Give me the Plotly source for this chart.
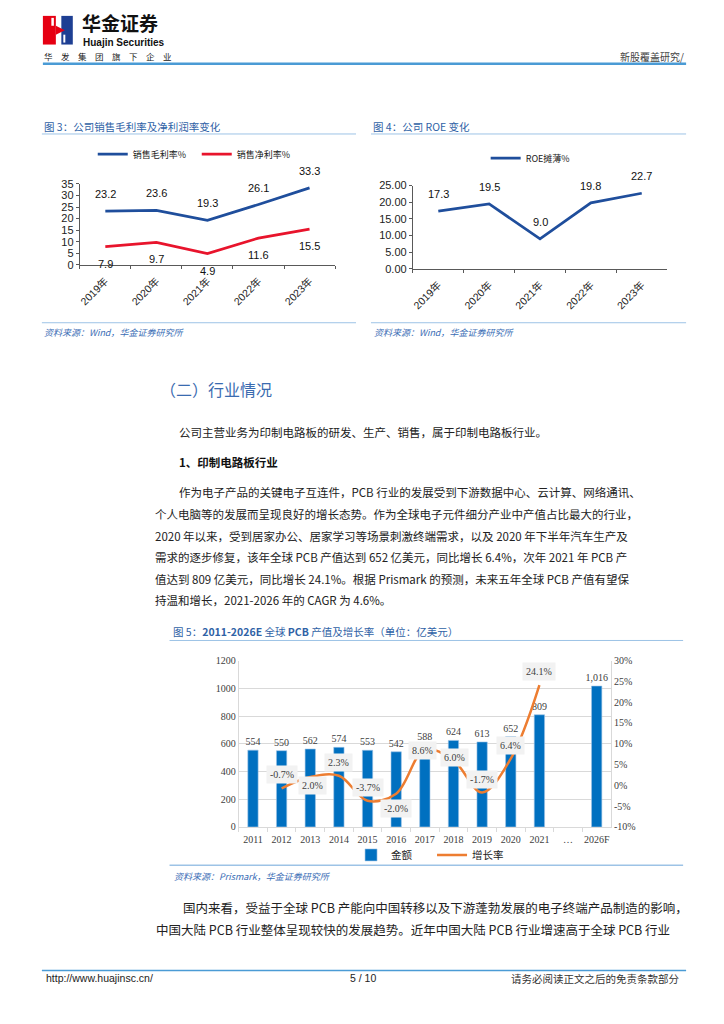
import plotly.graph_objects as go

W, H = 724, 1024

# ---------------- data ----------------
years = ["2019年", "2020年", "2021年", "2022年", "2023年"]
gross_margin = [23.2, 23.6, 19.3, 26.1, 33.3]
net_margin = [7.9, 9.7, 4.9, 11.6, 15.5]
roe_diluted = [17.3, 19.5, 9.0, 19.8, 22.7]

pcb_cats = ["2011", "2012", "2013", "2014", "2015", "2016", "2017", "2018",
            "2019", "2020", "2021", "…", "2026F"]
pcb_value = [554, 550, 562, 574, 553, 542, 588, 624, 613, 652, 809, None, 1016]
growth_cats = ["2012", "2013", "2014", "2015", "2016", "2017", "2018", "2019", "2020", "2021"]
growth_rate = [-0.7, 2.0, 2.3, -3.7, -2.0, 8.6, 6.0, -1.7, 6.4, 24.1]

y5_left_ticks = [0, 200, 400, 600, 800, 1000, 1200]
y5_right_ticks = [-10, -5, 0, 5, 10, 15, 20, 25, 30]
y5_right_labels = ["-10%", "-5%", "0%", "5%", "10%", "15%", "20%", "25%", "30%"]

# label offsets (pixels) for growth labels (style only)
growth_label_shift = [(0, 14), (2, -8), (0, 13), (0, 13), (0, -15),
                      (-2, -1), (1, 3), (0, 13), (0, 13), (0, 14)]

SANS = "Liberation Sans, Arial, Noto Sans CJK SC"
CJK = "Noto Sans CJK SC, Liberation Sans"
SERIF = "Liberation Serif, Noto Sans CJK SC"


def px(x):
    return x / W


def py(y):
    return 1 - y / H


fig = go.Figure()

# ---------------- chart 3 ----------------
fig.add_trace(go.Scatter(x=years, y=gross_margin, mode="lines", name="销售毛利率%",
                         line=dict(color="#1F4E9C", width=2.75), xaxis="x", yaxis="y",
                         legend="legend"))
fig.add_trace(go.Scatter(x=years, y=net_margin, mode="lines", name="销售净利率%",
                         line=dict(color="#E8142C", width=2.75), xaxis="x", yaxis="y",
                         legend="legend"))
# ---------------- chart 4 ----------------
fig.add_trace(go.Scatter(x=years, y=roe_diluted, mode="lines", name="ROE摊薄%",
                         line=dict(color="#1F4E9C", width=2.75), xaxis="x2", yaxis="y2",
                         legend="legend2"))
# ---------------- chart 5 ----------------
fig.add_trace(go.Bar(x=pcb_cats, y=pcb_value, name="金额", xaxis="x3", yaxis="y3",
                     marker=dict(color="#0070C0", line=dict(color="#9DC3E6", width=0.6)),
                     width=0.36,
                     text=[("" if v is None else f"{v:,}") for v in pcb_value],
                     textposition="outside", cliponaxis=False, constraintext="none",
                     textfont=dict(family=SERIF, size=10, color="#404040"),
                     legend="legend3"))
fig.add_trace(go.Scatter(x=growth_cats, y=growth_rate, mode="lines", name="增长率",
                         line=dict(color="#ED7D31", width=2.5, shape="spline", smoothing=1.0),
                         xaxis="x3", yaxis="y4", legend="legend3", cliponaxis=False))

annotations = []
# value labels chart 3
for c, v in zip(years, gross_margin):
    annotations.append(dict(x=years.index(c), y=v, xref="x", yref="y", text=f"{v:.1f}",
                            showarrow=False, yshift=17,
                            font=dict(family=SANS, size=11, color="#111")))
for c, v in zip(years, net_margin):
    annotations.append(dict(x=years.index(c), y=v, xref="x", yref="y", text=f"{v:.1f}",
                            showarrow=False, yshift=-17,
                            font=dict(family=SANS, size=11, color="#111")))
# value labels chart 4
for c, v in zip(years, roe_diluted):
    annotations.append(dict(x=years.index(c), y=v, xref="x2", yref="y2", text=f"{v:.1f}",
                            showarrow=False, yshift=17,
                            font=dict(family=SANS, size=11, color="#111")))
# growth labels chart 5
for c, v, (dx, dy) in zip(growth_cats, growth_rate, growth_label_shift):
    annotations.append(dict(x=pcb_cats.index(c), y=v, xref="x3", yref="y4", text=f"{v:.1f}%",
                            showarrow=False, xshift=dx, yshift=dy, bgcolor="#F2F2F2",
                            borderpad=3, font=dict(family=SERIF, size=10, color="#404040")))


def txt(x, y, s, size, color="#222", anchor="left", family=CJK):
    annotations.append(dict(x=px(x), y=py(y), xref="paper", yref="paper", text=s,
                            showarrow=False, xanchor=anchor, yanchor="middle",
                            font=dict(family=family, size=size, color=color)))


# header
txt(78, 17, "<b>华金证券</b>", 19, "#111")
txt(79, 36.5, "<b>Huajin Securities</b>", 10, "#111", family=SANS)
txt(40, 51, "华\u3000发\u3000集\u3000团\u3000旗\u3000下\u3000企\u3000业", 8.5, "#222")
txt(686, 51, "新股覆盖研究/", 10, "#444", anchor="right")

# captions
CAP = "#2F62A6"
txt(40, 122, "图 3：公司销售毛利率及净利润率变化", 10.5, CAP)
txt(370, 122, "图 4：公司 ROE 变化", 10.5, CAP)
SRC = "#3A6DB5"
txt(40, 330, "<i>资料来源：Wind，华金证券研究所</i>", 9, SRC)
txt(371, 330, "<i>资料来源：Wind，华金证券研究所</i>", 9, SRC)

# section
txt(156, 388, "（二）行业情况", 16, "#3A6BB0")
txt(175, 431, "公司主营业务为印制电路板的研发、生产、销售，属于印制电路板行业。", 11.5, "#222")
txt(175, 461, "<b>1、印制电路板行业</b>", 11.5, "#111")
para = [
    (175, 492, "作为电子产品的关键电子互连件，PCB 行业的发展受到下游数据中心、云计算、网络通讯、"),
    (151, 514, "个人电脑等的发展而呈现良好的增长态势。作为全球电子元件细分产业中产值占比最大的行业，"),
    (151, 536, "2020 年以来，受到居家办公、居家学习等场景刺激终端需求，以及 2020 年下半年汽车生产及"),
    (151, 558, "需求的逐步修复，该年全球 PCB 产值达到 652 亿美元，同比增长 6.4%，次年 2021 年 PCB 产"),
    (151, 580, "值达到 809 亿美元，同比增长 24.1%。根据 Prismark 的预测，未来五年全球 PCB 产值有望保"),
    (151, 601, "持温和增长，2021-2026 年的 CAGR 为 4.6%。"),
]
for x, y, s in para:
    txt(x, y, s, 11.5, "#222")

txt(169, 633, "图 5：<b>2011-2026E</b> 全球 <b>PCB</b> 产值及增长率（单位：亿美元）", 10.5, CAP)
txt(170, 881, "<i>资料来源：Prismark，华金证券研究所</i>", 9, SRC)

txt(179, 912, "国内来看，受益于全球 PCB 产能向中国转移以及下游蓬勃发展的电子终端产品制造的影响，", 12.5, "#222")
txt(152, 934, "中国大陆 PCB 行业整体呈现较快的发展趋势。近年中国大陆 PCB 行业增速高于全球 PCB 行业", 12.5, "#222")

# footer
txt(42, 984, "http://www.huajinsc.cn/", 10.5, "#222", family=SANS)
txt(362, 984, "5 / 10", 10.5, "#222", anchor="center", family=SANS)
txt(681, 984, "请务必阅读正文之后的免责条款部分", 10.5, "#333", anchor="right")


def hline(x0, x1, y, color, width):
    return dict(type="line", xref="paper", yref="paper", x0=px(x0), x1=px(x1),
                y0=py(y), y1=py(y), line=dict(color=color, width=width))


LB = "#9DC3E6"
shapes = [
    hline(41, 686, 58.5, "#4A9BD5", 2.5),
    hline(40, 355, 129.5, LB, 1), hline(370, 686, 129.5, LB, 1),
    hline(40, 355, 320.5, LB, 1), hline(370, 686, 320.5, LB, 1),
    hline(168, 683, 642, LB, 1), hline(168, 683, 869.5, LB, 1.5),
    hline(40, 686, 976, "#4A9BD5", 1.5),
    # logo
    dict(type="rect", xref="paper", yref="paper", x0=px(41), x1=px(54), y0=py(39), y1=py(10),
         fillcolor="#E60012", line=dict(width=0)),
    dict(type="rect", xref="paper", yref="paper", x0=px(59.5), x1=px(71), y0=py(39), y1=py(10),
         fillcolor="#1E3F93", line=dict(width=0)),
    dict(type="path", xref="paper", yref="paper",
         path=f"M{px(54)},{py(20)} L{px(63)},{py(24.5)} L{px(54)},{py(29)} Z",
         fillcolor="#E60012", line=dict(width=0)),
    dict(type="rect", xref="paper", yref="paper", x0=px(49.5), x1=px(52), y0=py(20), y1=py(12),
         fillcolor="white", line=dict(width=0)),
    dict(type="rect", xref="paper", yref="paper", x0=px(61.5), x1=px(63.5), y0=py(37), y1=py(29),
         fillcolor="white", line=dict(width=0)),
]

axis_common = dict(showgrid=False, zeroline=False, showline=True, linecolor="#595959",
                   linewidth=1, ticks="outside", tickcolor="#595959", ticklen=3)

fig.update_layout(
    width=W, height=H, margin=dict(l=0, r=0, t=0, b=0), autosize=False,
    paper_bgcolor="white", plot_bgcolor="white",
    annotations=annotations, shapes=shapes,
    xaxis=dict(domain=[px(78), px(334)], anchor="y", type="category", range=[-0.5, 4.5],
               tickangle=-45, tickson="boundaries", ticklabelstandoff=5,
               tickfont=dict(family=SANS, size=10.5, color="#222"), **axis_common),
    yaxis=dict(domain=[py(262), py(180)], anchor="x", range=[0, 35], dtick=5,
               tickfont=dict(family=SANS, size=11, color="#222"), **axis_common),
    xaxis2=dict(domain=[px(412), px(667)], anchor="y2", type="category", range=[-0.5, 4.5],
                tickangle=-45, tickson="boundaries", ticklabelstandoff=5,
                tickfont=dict(family=SANS, size=10.5, color="#222"), **axis_common),
    yaxis2=dict(domain=[py(266), py(181.7)], anchor="x2", range=[0, 25], dtick=5, tickformat=".2f",
                tickfont=dict(family=SANS, size=11, color="#222"), **axis_common),
    xaxis3=dict(domain=[px(237.3), px(610.7)], anchor="y3", type="category", range=[-0.5, 12.5],
                showgrid=False, zeroline=False, showline=True, linecolor="#D9D9D9",
                ticks="outside", tickson="boundaries", tickcolor="#D9D9D9", ticklen=4,
                ticklabelstandoff=3,
                tickangle=0, tickfont=dict(family=SERIF, size=10, color="#404040")),
    yaxis3=dict(domain=[py(830.7), py(662.3)], anchor="x3", range=[0, 1200],
                tickvals=y5_left_ticks, showgrid=True, gridcolor="#D9D9D9", zeroline=False,
                showline=True, linecolor="#D9D9D9", ticks="",
                tickfont=dict(family=SERIF, size=10, color="#404040")),
    yaxis4=dict(overlaying="y3", side="right", anchor="x3", range=[-10, 30],
                tickvals=y5_right_ticks, ticktext=y5_right_labels, showgrid=False, zeroline=False,
                showline=True, linecolor="#D9D9D9", ticks="",
                tickfont=dict(family=SERIF, size=10, color="#404040")),
    legend=dict(orientation="h", x=px(91), y=py(150), xanchor="left", yanchor="middle",
                entrywidth=59, entrywidthmode="pixels", bgcolor="rgba(0,0,0,0)",
                font=dict(family=CJK, size=9, color="#222")),
    legend2=dict(orientation="h", x=px(485), y=py(154), xanchor="left", yanchor="middle",
                 bgcolor="rgba(0,0,0,0)", font=dict(family=CJK, size=9, color="#222")),
    legend3=dict(orientation="h", x=px(350), y=py(859), xanchor="left", yanchor="middle",
                 entrywidth=36, entrywidthmode="pixels", bgcolor="rgba(0,0,0,0)",
                 font=dict(family=CJK, size=10.5, color="#222")),
    showlegend=True,
)

fig.write_html("out.html", config={"displayModeBar": False},
               post_script="document.body.style.margin='0px';document.body.style.overflow='hidden';")
